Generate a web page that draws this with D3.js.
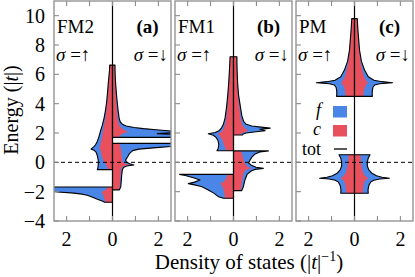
<!DOCTYPE html>
<html><head><meta charset="utf-8">
<script src="https://cdn.jsdelivr.net/npm/d3@7"></script>
<style>body{margin:0;background:#fff}svg{display:block}</style>
</head><body>
<svg id="chart" width="415" height="277"></svg>
<script>
// ---------- data ----------
const panelNames = ["FM2", "FM1", "PM"];
const panelTags = ["(a)", "(b)", "(c)"];
const yTickValues = [-4, -2, 0, 2, 4, 6, 8, 10];
const xTickValues = [-2, -1, 0, 1, 2];
const xTickLabels = [[-2, "2"], [0, "0"], [2, "2"]];
const legendLabels = ["f", "c", "tot"];

// rows: [energy, total DOS, c-electron DOS]; null = gap between bands
const fm2Up = [
  [6.63,0.12,0.11],[6.3,0.13,0.12],[5.8,0.16,0.14],[5.3,0.19,0.17],[4.7,0.22,0.19],
  [4.2,0.25,0.22],[3.6,0.3,0.26],[3.0,0.37,0.31],[2.5,0.45,0.37],[2.1,0.53,0.42],
  [1.7,0.6,0.46],[1.4,0.67,0.5],[1.2,0.74,0.53],[1.05,0.82,0.56],[0.95,0.9,0.57],
  [0.9,0.93,0.55],[0.82,0.8,0.52],[0.7,0.72,0.5],[0.5,0.67,0.48],[0.3,0.64,0.44],
  [0.1,0.62,0.4],[-0.15,0.62,0.28],[-0.4,0.64,0.22],[-0.5,0.66,0.2],
  null,
  [-1.68,3.5,0.2],[-1.8,3.1,0.26],[-1.95,2.7,0.36],[-2.02,2.4,0.5],[-2.08,1.8,0.46],
  [-2.15,1.4,0.42],[-2.25,1.1,0.4],[-2.4,0.84,0.37],[-2.52,0.66,0.35],[-2.62,0.48,0.33],
  [-2.68,0.38,0.31],[-2.72,0.36,0.3]
];
const fm2Down = [
  [6.63,0.11,0.1],[6.3,0.11,0.1],[5.8,0.12,0.11],[5.3,0.14,0.12],[4.7,0.17,0.14],
  [4.2,0.2,0.16],[3.6,0.24,0.19],[3.0,0.29,0.22],[2.75,0.34,0.25],[2.6,0.43,0.28],
  [2.48,0.6,0.32],[2.38,0.94,0.36],[2.3,1.35,0.42],[2.22,1.9,0.5],[2.13,2.6,0.6],
  [2.05,3.0,0.66],[1.96,1.95,0.45],[1.88,3.0,0.36],[1.78,3.3,0.3],[1.7,3.5,0.27],
  null,
  [1.29,3.5,0.3],[1.2,3.0,0.32],[1.08,2.55,0.34],[1.0,1.9,0.35],[0.9,1.15,0.37],
  [0.8,0.88,0.38],[0.6,0.74,0.4],[0.38,0.66,0.41],[0.15,0.57,0.42],[0.0,0.62,0.45],
  [-0.1,0.75,0.55],[-0.18,0.93,0.8],[-0.25,0.62,0.5],[-0.35,0.48,0.4],[-0.5,0.43,0.37],
  [-0.9,0.4,0.35],[-1.3,0.38,0.33],[-1.66,0.36,0.31],[-1.88,0.3,0.27]
];
const fm1Up = [
  [7.2,0.15,0.14],[6.8,0.16,0.15],[6.2,0.18,0.16],[5.4,0.21,0.19],[4.6,0.25,0.22],
  [3.8,0.3,0.26],[3.0,0.37,0.31],[2.6,0.44,0.36],[2.35,0.52,0.41],[2.15,0.63,0.47],
  [2.03,0.8,0.56],[1.95,1.1,0.68],[1.85,0.88,0.62],[1.7,0.76,0.55],[1.5,0.68,0.48],
  [1.2,0.64,0.42],[0.95,0.67,0.36],[0.79,0.72,0.3],
  null,
  [-0.82,2.35,0.24],[-0.9,2.1,0.27],[-1.05,1.75,0.31],[-1.2,1.46,0.36],[-1.35,1.7,0.45],
  [-1.45,1.97,0.59],[-1.52,1.75,0.54],[-1.65,1.4,0.48],[-1.89,1.1,0.43],[-2.1,0.86,0.4],
  [-2.34,0.66,0.38],[-2.42,0.5,0.37],[-2.45,0.45,0.36]
];
const fm1Down = [
  [7.2,0.15,0.14],[6.8,0.15,0.14],[6.2,0.16,0.15],[5.4,0.18,0.16],[4.6,0.22,0.19],
  [3.8,0.3,0.25],[3.2,0.36,0.29],[2.8,0.44,0.34],[2.6,0.55,0.38],[2.48,0.8,0.42],
  [2.4,1.2,0.46],[2.33,1.6,0.5],[2.25,1.15,0.55],[2.15,1.38,0.65],[2.07,0.9,0.5],
  [2.0,0.55,0.38],[1.93,0.42,0.32],[1.86,0.38,0.3],
  null,
  [0.78,1.52,0.3],[0.7,1.15,0.34],[0.55,0.92,0.38],[0.35,0.8,0.41],[0.15,0.72,0.44],
  [-0.05,0.66,0.48],[-0.2,0.78,0.55],[-0.33,0.98,0.65],[-0.41,1.3,0.82],[-0.48,0.95,0.6],
  [-0.57,0.79,0.5],[-0.8,0.6,0.43],[-1.2,0.5,0.38],[-1.66,0.43,0.34],[-1.93,0.36,0.31]
];
const pmUp = [
  [9.8,0.12,0.11],[9.0,0.15,0.14],[7.65,0.22,0.2],[6.9,0.3,0.26],[6.29,0.44,0.34],
  [5.83,0.6,0.42],[5.6,0.85,0.5],[5.5,1.2,0.55],[5.43,1.66,0.58],[5.36,1.1,0.55],
  [5.27,0.88,0.5],[5.1,0.8,0.45],[4.93,0.78,0.42],[4.7,0.77,0.4],[4.5,0.78,0.38],
  null,
  [0.52,0.68,0.25],[0.3,0.6,0.27],[0.0,0.56,0.29],[-0.25,0.56,0.31],[-0.5,0.62,0.34],
  [-0.75,0.76,0.39],[-0.92,0.96,0.46],[-1.02,1.2,0.54],[-1.09,1.52,0.62],[-1.14,1.1,0.55],
  [-1.22,0.84,0.48],[-1.35,0.7,0.43],[-1.6,0.62,0.39],[-1.9,0.59,0.37],[-2.11,0.6,0.36]
];
const pmDown = pmUp;
const panelData = [[fm2Up, fm2Down], [fm1Up, fm1Down], [pmUp, pmDown]];

// ---------- layout ----------
const blue = "#4a86e8", red = "#e8505e", frameColor = "#8c8c8c";
const font = "'Liberation Serif','Times New Roman',serif";
const panelLeft = [54, 175, 296];
const panelW = 117;
const plotTop = 1, plotBottom = 221;
const svg = d3.select("#chart");
const y = d3.scaleLinear().domain([-4, 11]).range([plotBottom, plotTop]);

panelData.forEach((pd, i) => {
  const L = panelLeft[i];
  const x = d3.scaleLinear().domain([-2.55, 2.55]).range([L, L + panelW]);
  const clipId = "clip" + i;
  svg.append("clipPath").attr("id", clipId).append("rect")
    .attr("x", L).attr("y", plotTop).attr("width", panelW).attr("height", plotBottom - plotTop);
  const plot = svg.append("g").attr("clip-path", `url(#${clipId})`);
  [[pd[0], -1], [pd[1], 1]].forEach(([data, s]) => {
    const aTot = d3.area().defined(d => d !== null).y(d => y(d[0])).x0(x(0)).x1(d => x(s * d[1]));
    const aC = d3.area().defined(d => d !== null).y(d => y(d[0])).x0(x(0)).x1(d => x(s * d[2]));
    plot.append("path").attr("d", aTot(data)).attr("fill", blue);
    plot.append("path").attr("d", aC(data)).attr("fill", red);
    plot.append("path").attr("d", aTot(data)).attr("fill", "none")
      .attr("stroke", "#000").attr("stroke-width", 1.1).attr("stroke-linejoin", "round");
  });
  plot.append("line").attr("x1", x(0)).attr("x2", x(0)).attr("y1", plotTop).attr("y2", plotBottom)
    .attr("stroke", "#000").attr("stroke-width", 1.2);
  plot.append("line").attr("x1", L).attr("x2", L + panelW).attr("y1", y(0)).attr("y2", y(0))
    .attr("stroke", "#000").attr("stroke-width", 1).attr("stroke-dasharray", "4,3");
  svg.append("rect").attr("x", L).attr("y", plotTop).attr("width", panelW).attr("height", plotBottom - plotTop)
    .attr("fill", "none").attr("stroke", frameColor).attr("stroke-width", 1.3);
  yTickValues.forEach(v => {
    svg.append("line").attr("x1", L).attr("x2", L + 5).attr("y1", y(v)).attr("y2", y(v))
      .attr("stroke", frameColor).attr("stroke-width", 1.1);
  });
  xTickValues.forEach(v => {
    svg.append("line").attr("x1", x(v)).attr("x2", x(v)).attr("y1", plotBottom).attr("y2", plotBottom - 5)
      .attr("stroke", frameColor).attr("stroke-width", 1.1);
    svg.append("line").attr("x1", x(v)).attr("x2", x(v)).attr("y1", plotTop).attr("y2", plotTop + 5)
      .attr("stroke", frameColor).attr("stroke-width", 1.1);
  });
  xTickLabels.forEach(([v, t]) => {
    svg.append("text").attr("x", x(v)).attr("y", 246).attr("text-anchor", "middle")
      .attr("font-family", font).attr("font-size", 20).text(t);
  });
  svg.append("text").attr("x", L + 3).attr("y", 33).attr("font-family", font).attr("font-size", 19).text(panelNames[i]);
  svg.append("text").attr("x", x(0) + 35).attr("y", 33).attr("text-anchor", "middle")
    .attr("font-family", font).attr("font-size", 19).attr("font-weight", "bold").text(panelTags[i]);
  const up = svg.append("text").attr("x", L + 2).attr("y", 61).attr("font-family", font).attr("font-size", 19);
  up.append("tspan").attr("font-style", "italic").text("σ");
  up.append("tspan").text(" =↑");
  const dn = svg.append("text").attr("x", L + panelW - 3).attr("y", 61).attr("text-anchor", "end")
    .attr("font-family", font).attr("font-size", 19);
  dn.append("tspan").attr("font-style", "italic").text("σ");
  dn.append("tspan").text(" =↓");
});

yTickValues.forEach(v => {
  svg.append("text").attr("x", 45).attr("y", y(v)).attr("dy", "0.35em").attr("text-anchor", "end")
    .attr("font-family", font).attr("font-size", 20).text(v < 0 ? "\u2212" + Math.abs(v) : String(v));
});

const yl = svg.append("text").attr("transform", "translate(18,110) rotate(-90)").attr("text-anchor", "middle")
  .attr("font-family", font).attr("font-size", 20);
yl.append("tspan").text("Energy (|");
yl.append("tspan").attr("font-style", "italic").text("t");
yl.append("tspan").text("|)");
const xl = svg.append("text").attr("x", 249).attr("y", 269).attr("text-anchor", "middle")
  .attr("font-family", font).attr("font-size", 21);
xl.append("tspan").text("Density of states (|");
xl.append("tspan").attr("font-style", "italic").text("t");
xl.append("tspan").text("|");
xl.append("tspan").attr("font-size", 14).attr("dy", -8).text("\u22121");
xl.append("tspan").attr("dy", 8).text(")");

const legX = 321;
[[legendLabels[0], 116, "italic"], [legendLabels[1], 135, "italic"], [legendLabels[2], 155, "normal"]].forEach(([t, by, st]) => {
  svg.append("text").attr("x", legX).attr("y", by).attr("text-anchor", "end")
    .attr("font-family", font).attr("font-size", 18).attr("font-style", st).text(t);
});
svg.append("rect").attr("x", 333).attr("y", 106).attr("width", 14).attr("height", 11.5).attr("fill", blue);
svg.append("rect").attr("x", 333).attr("y", 125).attr("width", 14).attr("height", 11.5).attr("fill", red);
svg.append("line").attr("x1", 334).attr("x2", 347).attr("y1", 149).attr("y2", 149).attr("stroke", "#000").attr("stroke-width", 1.3);
</script>
</body></html>
